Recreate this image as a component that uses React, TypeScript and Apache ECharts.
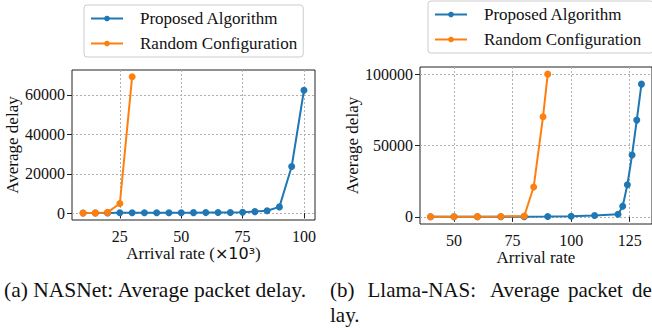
import React, { useEffect, useRef } from "react";
import * as echarts from "echarts";

const leftProposedX = [10, 15, 20, 25, 30, 35, 40, 45, 50, 55, 60, 65, 70, 75, 80, 85, 90, 95, 100];
const leftProposed = [100, 100, 150, 200, 200, 220, 230, 250, 260, 280, 300, 330, 380, 500, 800, 1200, 3200, 23700, 62400];
const leftRandomX = [10, 15, 20, 25, 30];
const leftRandom = [100, 150, 400, 4900, 69200];

const rightProposedX = [40, 50, 60, 70, 80, 90, 100, 110, 120, 122, 124, 126, 128, 130];
const rightProposed = [50, 60, 80, 100, 150, 250, 450, 900, 1800, 7500, 22500, 43400, 67800, 93000];
const rightRandomX = [40, 50, 60, 70, 80, 84, 88, 90];
const rightRandom = [100, 120, 150, 250, 600, 20900, 70100, 100000];

const leftXTicks = [25, 50, 75, 100];
const leftYTicks = [0, 20000, 40000, 60000];
const rightXTicks = [50, 75, 100, 125];
const rightYTicks = [0, 50000, 100000];

const seriesNames = ["Proposed Algorithm", "Random Configuration"];
const BLUE = "#1f77b4";
const ORANGE = "#ff7f0e";
const SERIF = "Liberation Serif, Times New Roman, serif";

function zip(xs: number[], ys: number[]) {
  return xs.map((x, i) => [x, ys[i]]);
}

function makeAxis(
  gridIndex: number,
  min: number,
  max: number,
  ticks: number[],
  name: string,
  nameGap: number,
  isX: boolean,
  nameRich?: any
) {
  return {
    type: "value",
    gridIndex,
    min,
    max,
    name,
    nameLocation: "middle",
    nameGap,
    nameTextStyle: { fontFamily: SERIF, fontSize: 17, color: "#111", rich: nameRich },
    axisLine: { show: false },
    axisTick: {
      show: true,
      length: 5,
      lineStyle: { color: "#222", width: 1 },
      customValues: ticks,
    },
    axisLabel: {
      customValues: ticks,
      formatter: (v: number) => String(v),
      fontFamily: SERIF,
      fontSize: 16,
      color: "#111",
      margin: isX ? 8 : 7,
    },
    splitLine: {
      show: true,
      lineStyle: { color: "#b0b0b0", type: [2, 2], width: 1 },
    },
  };
}

function lineSeries(name: string, color: string, data: number[][], xi: number, yi: number) {
  return {
    type: "line",
    name,
    xAxisIndex: xi,
    yAxisIndex: yi,
    data,
    symbol: "circle",
    symbolSize: 7,
    showSymbol: true,
    itemStyle: { color },
    lineStyle: { color, width: 2 },
    emphasis: { disabled: true },
  };
}

function makeLegend(left: number, top: number, padRight: number) {
  return {
    orient: "vertical",
    left,
    top,
    data: seriesNames,
    backgroundColor: "rgba(255,255,255,0.8)",
    borderColor: "#cccccc",
    borderWidth: 1,
    borderRadius: 3,
    padding: [5, padRight, 5, 6],
    itemGap: 8,
    itemWidth: 32,
    itemHeight: 7,
    textStyle: { fontFamily: SERIF, fontSize: 17, color: "#111", padding: [0, 0, 0, 12] },
    selectedMode: false,
  };
}

const cap = (text: string, left: number, top: number, size = 21) => ({
  type: "text",
  left,
  top,
  style: { text, fontFamily: SERIF, fontSize: size, fill: "#111" },
});

export default function App() {
  const ref = useRef<HTMLDivElement>(null);
  useEffect(() => {
    if (!ref.current) return;
    const chart = echarts.init(ref.current, undefined, { renderer: "svg" });
    const option: any = {
      animation: false,
      backgroundColor: "#ffffff",
      textStyle: { fontFamily: SERIF },
      grid: [
        { left: 72, top: 70, width: 243, height: 150, show: true, borderColor: "#222", borderWidth: 1, backgroundColor: "transparent" },
        { left: 420, top: 67, width: 237, height: 157, show: true, borderColor: "#222", borderWidth: 1, backgroundColor: "transparent" },
      ],
      xAxis: [
        makeAxis(0, 5.5, 104.5, leftXTicks, "Arrival rate ({m|×10³})", 23, true, {
          m: { fontFamily: "DejaVu Sans", fontSize: 16, color: "#111" },
        }),
        makeAxis(1, 35.5, 134.5, rightXTicks, "Arrival rate", 21, true),
      ],
      yAxis: [
        makeAxis(0, -3460, 72660, leftYTicks, "Average delay", 48, false),
        makeAxis(1, -5000, 105000, rightYTicks, "Average delay", 57, false),
      ],
      legend: [makeLegend(84, 5, 6), makeLegend(428, 1, 12)],
      series: [
        lineSeries(seriesNames[0], BLUE, zip(leftProposedX, leftProposed), 0, 0),
        lineSeries(seriesNames[1], ORANGE, zip(leftRandomX, leftRandom), 0, 0),
        lineSeries(seriesNames[0], BLUE, zip(rightProposedX, rightProposed), 1, 1),
        lineSeries(seriesNames[1], ORANGE, zip(rightRandomX, rightRandom), 1, 1),
      ],
      graphic: [
        cap("(a) NASNet: Average packet delay.", 4, 279, 21.5),
        cap("(b)", 330, 279),
        cap("Llama-NAS:", 367.5, 279),
        cap("Average", 490, 279),
        cap("packet", 568, 279),
        cap("de", 632, 279),
        cap("lay.", 330, 304),
      ],
    };
    chart.setOption(option);
    return () => chart.dispose();
  }, []);
  return (
    <div
      ref={ref}
      style={{ position: "fixed", left: 0, top: 0, width: 652, height: 328, background: "#fff" }}
    />
  );
}
